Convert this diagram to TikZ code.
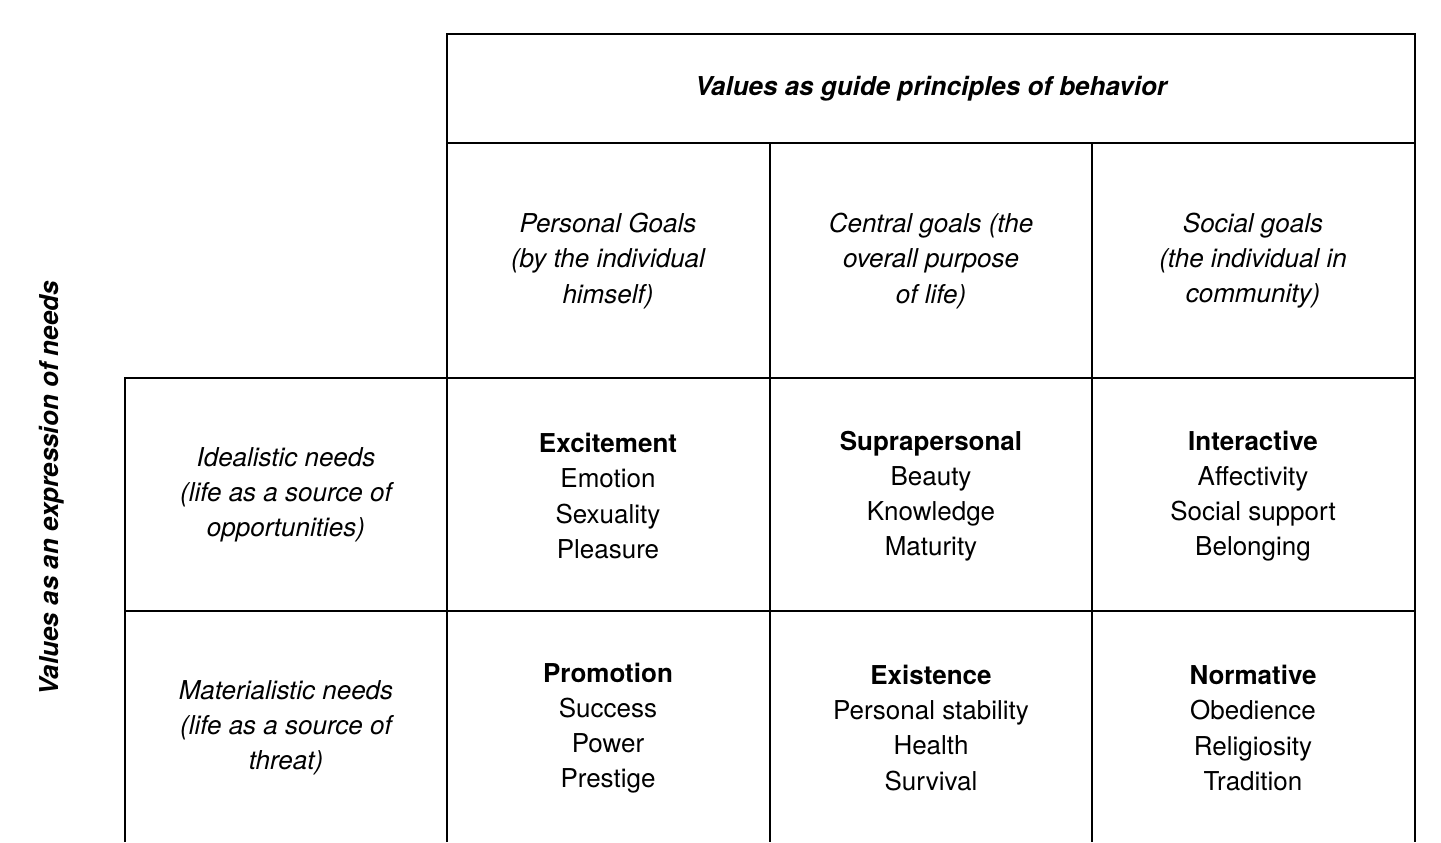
\documentclass[tikz,border=0pt]{standalone}
\usepackage{fontspec}
\setmainfont{TeX Gyre Heros}
\begin{document}
\begin{tikzpicture}[x=0.75pt,y=-0.75pt,
  thick/.style={line width=2.2pt},
  thin/.style={line width=1.3pt},
  cell/.style={align=center,font=\fontsize{19.5}{26.3}\selectfont,inner sep=0pt},
  head/.style={cell,font=\fontsize{19.5}{26.3}\selectfont\itshape}]
\useasboundingbox (0,0) rectangle (1441,842);
\draw[thick] (447,842) -- (447,34) -- (1415,34) -- (1415,842);
\draw[thick] (447,143) -- (1415,143);
\draw[thick] (125,842) -- (125,378) -- (1415,378);
\draw[thick] (125,611) -- (1415,611);
\draw[thin] (770,143) -- (770,842);
\draw[thin] (1092,143) -- (1092,842);
\node[head,font=\fontsize{19.5}{26.3}\selectfont\bfseries\itshape] (t) at (931,89) {Values as guide principles of behavior};
\node[head,rotate=90,font=\fontsize{19.5}{26.3}\selectfont\bfseries\itshape] (v) at (52,488) {Values as an expression of needs};
\node[head] (c1) at (608,261) {Personal Goals\\(by the individual\\himself)};
\node[head] (c2) at (931,261) {Central goals (the\\overall purpose\\of life)};
\node[head] (c3) at (1253,261) {Social goals\\(the individual in\\community)};
\node[head] (r1) at (286,495) {Idealistic needs\\(life as a source of\\opportunities)};
\node[head] (r2) at (286,728) {Materialistic needs\\(life as a source of\\threat)};
\node[cell] (a1) at (608,496) {\textbf{Excitement}\\Emotion\\Sexuality\\Pleasure};
\node[cell] (a2) at (931,496) {\textbf{Suprapersonal}\\Beauty\\Knowledge\\Maturity};
\node[cell] (a3) at (1253,496) {\textbf{Interactive}\\Affectivity\\Social support\\Belonging};
\node[cell] (b1) at (608,728) {\textbf{Promotion}\\Success\\Power\\Prestige};
\node[cell] (b2) at (931,728) {\textbf{Existence}\\Personal stability\\Health\\Survival};
\node[cell] (b3) at (1253,728) {\textbf{Normative}\\Obedience\\Religiosity\\Tradition};
\end{tikzpicture}
\end{document}
